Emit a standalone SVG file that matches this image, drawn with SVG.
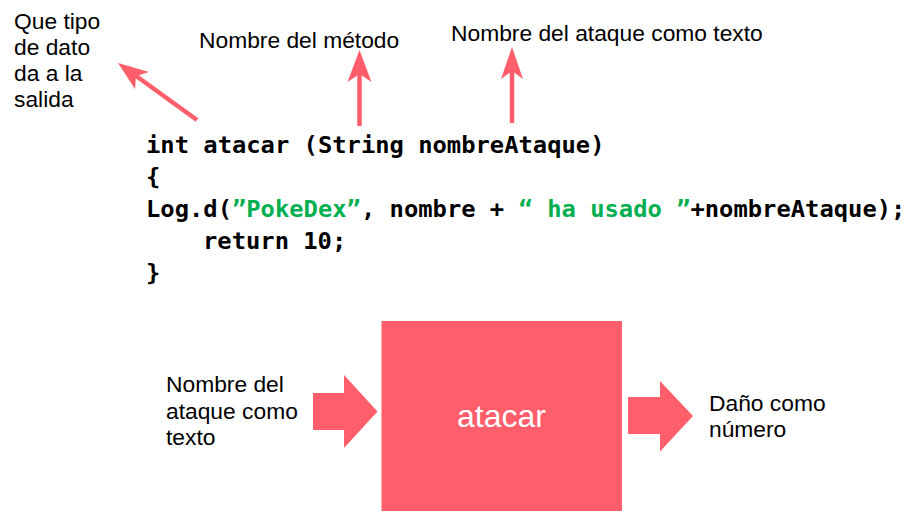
<svg xmlns="http://www.w3.org/2000/svg" width="923" height="519" viewBox="0 0 923 519">
<style>
.lbl{font-family:"Liberation Sans",Arial,sans-serif;font-size:22.8px;fill:#000}
.code{font-family:"DejaVu Sans Mono","Liberation Mono",monospace;font-weight:bold;font-size:23.8px;fill:#000}
.str{fill:#00b050}
.shape{fill:#ff5e6a}
.ln{stroke:#ff5e6a;stroke-width:4.5;fill:none}
.box{fill:#ff5e6a}
.boxtxt{font-family:"Liberation Sans",Arial,sans-serif;font-size:32px;fill:#fff}
</style>
<rect width="923" height="519" fill="#fff"/>
<g id="labels">
<text class="lbl" x="14" y="29">Que tipo</text>
<text class="lbl" x="14" y="55">de dato</text>
<text class="lbl" x="14" y="81">da a la</text>
<text class="lbl" x="14" y="107">salida</text>
<text class="lbl" x="199" y="48">Nombre del método</text>
<text class="lbl" x="451" y="41">Nombre del ataque como texto</text>
</g>
<g id="code">
<text class="code" x="146" y="153">int atacar (String nombreAtaque)</text>
<text class="code" x="146" y="185">{</text>
<text class="code" x="146" y="217">Log.d(<tspan class="str">”PokeDex”</tspan>, nombre + <tspan class="str">“ ha usado ”</tspan>+nombreAtaque);</text>
<text class="code" x="203" y="249">return 10;</text>
<text class="code" x="146" y="281">}</text>
</g>
<g id="connectors">
<line class="ln" x1="197" y1="120" x2="132" y2="73"/>
<path class="shape" d="M118,63 L149,72 L136,76 L135,89 Z"/>
<line class="ln" x1="359.5" y1="126" x2="359.5" y2="72"/>
<path class="shape" d="M359.5,50 L371.5,82 L359.5,74 L347.5,82 Z"/>
<line class="ln" x1="512" y1="123" x2="512" y2="69"/>
<path class="shape" d="M512,47 L523,79 L512,71 L501,79 Z"/>
</g>
<g id="input-arrow">
<path class="shape" d="M313,393 L344,393 L344,375 L377.5,411.5 L344,448 L344,430 L313,430 Z"/>
</g>
<g id="node-atacar">
<rect class="box" x="381.5" y="321" width="240.5" height="190"/>
<text class="boxtxt" x="501.5" y="427" text-anchor="middle">atacar</text>
</g>
<g id="output-arrow">
<path class="shape" d="M628,397 L660,397 L660,381 L693,416 L660,451.5 L660,434 L628,434 Z"/>
</g>
<g id="io-labels">
<text class="lbl" x="166" y="392">Nombre del</text>
<text class="lbl" x="166" y="419">ataque como</text>
<text class="lbl" x="166" y="445">texto</text>
<text class="lbl" x="709" y="411">Daño como</text>
<text class="lbl" x="709" y="437">número</text>
</g>
</svg>
